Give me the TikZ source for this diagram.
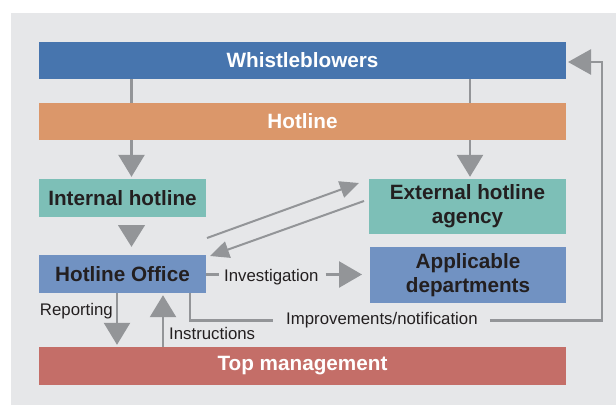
\documentclass[tikz,border=0pt]{standalone}
\usepackage{fontspec}
\setmainfont{Liberation Sans}
\usetikzlibrary{arrows.meta,calc}
\definecolor{panel}{HTML}{E6E7E9}
\definecolor{cblue}{HTML}{4775AE}
\definecolor{corange}{HTML}{DB976A}
\definecolor{cteal}{HTML}{7DBFB7}
\definecolor{clblue}{HTML}{7192C2}
\definecolor{cred}{HTML}{C46E68}
\definecolor{cgrey}{HTML}{939598}
\definecolor{ctext}{HTML}{231F20}
\tikzset{
  box/.style={draw=none,inner sep=0pt,align=center,font=\fontsize{20.7}{24}\selectfont\bfseries},
  lbl/.style={inner sep=0pt,text=ctext,font=\fontsize{16.8}{20}\selectfont,anchor=west},
  conn/.style={draw=cgrey,line width=2.6pt},
  bigarrow/.style={conn,-{Triangle[width=26pt,length=22pt]}},
  smallarrow/.style={draw=cgrey,line width=2pt,-{Triangle[width=17pt,length=19pt]}}
}
\begin{document}
\begin{tikzpicture}[x=1pt,y=-1pt]
\useasboundingbox (0,0) rectangle (616,405);
\fill[panel] (11,13) rectangle (616,405);
% boxes
\node[box,fill=cblue,text=white,minimum width=527pt,minimum height=37pt] (W) at (302.5,60.5) {Whistleblowers};
\node[box,fill=corange,text=white,minimum width=527pt,minimum height=37pt] (H) at (302.5,121.5) {Hotline};
\node[box,fill=cteal,text=ctext,minimum width=167pt,minimum height=38pt] (IH) at (122.5,198) {Internal hotline};
\node[box,fill=clblue,text=ctext,minimum width=167pt,minimum height=38pt] (HO) at (122.5,274) {Hotline Office};
\node[box,fill=cteal,text=ctext,minimum width=197pt,minimum height=55pt] (EA) at (467.5,206.5) {External hotline\\agency};
\node[box,fill=clblue,text=ctext,minimum width=196pt,minimum height=56pt] (AD) at (468,275) {Applicable\\departments};
\node[box,fill=cred,text=white,minimum width=527pt,minimum height=38pt] (TM) at (302.5,366) {Top management};
% helper coordinates
\coordinate (xa) at (131.5,0);
\coordinate (xb) at (470,0);
\coordinate (xr) at (117,0);
\coordinate (xi) at (163,0);
\coordinate (xm) at (190,0);
% whistleblowers to hotline
\draw[conn] (W.south -| xa) -- (H.north -| xa);
\draw[conn] (W.south -| xb) -- (H.north -| xb);
% hotline to internal / external
\draw[bigarrow] (H.south -| xa) -- ($(IH.north -| xa)+(0,-2)$);
\draw[bigarrow] (H.south -| xb) -- ($(EA.north -| xb)+(0,-2)$);
% internal hotline to hotline office
\fill[cgrey] ($(IH.south -| xa)+(-13.5,8)$) -- ($(IH.south -| xa)+(13.5,8)$) -- ($(HO.north -| xa)+(0,-8)$) -- cycle;
% diagonal arrows
\coordinate (d1s) at (207,238);
\coordinate (d1e) at (359,183);
\coordinate (d2s) at (364,201);
\coordinate (d2e) at (210,256);
\draw[smallarrow] (d1s) -- (d1e);
\draw[smallarrow] (d2s) -- (d2e);
% investigation
\node[lbl,anchor=base west] (inv) at (224,281) {Investigation};
\coordinate (invtip) at (362,274.5);
\draw[conn] (HO.east |- invtip) -- ([xshift=-5pt]inv.west |- invtip);
\draw[conn,-{Triangle[width=26pt,length=23pt]}] ([xshift=7pt]inv.east |- invtip) -- (invtip);
% reporting
\node[lbl,anchor=east] (rep) at (113,311) {Reporting};
\draw[bigarrow] (HO.south -| xr) -- ($(TM.north -| xr)+(0,-2)$);
% instructions
\node[lbl] (ins) at (169,333) {Instructions};
\draw[bigarrow] (TM.north -| xi) -- ($(HO.south -| xi)+(0,2)$);
% improvements / notification
\node[lbl] (imp) at (286,320.5) {Improvements/notification};
\coordinate (rc) at (602,320.5);
\coordinate (rt) at (602,62);
\coordinate (wtip) at (568,62);
\draw[conn] (HO.south -| xm) |- ([xshift=-13pt]imp.west);
\draw[conn,-{Triangle[width=25pt,length=23pt]}] ([xshift=12pt]imp.east) -- (rc) -- (rt) -- (wtip);
\end{tikzpicture}
\end{document}
